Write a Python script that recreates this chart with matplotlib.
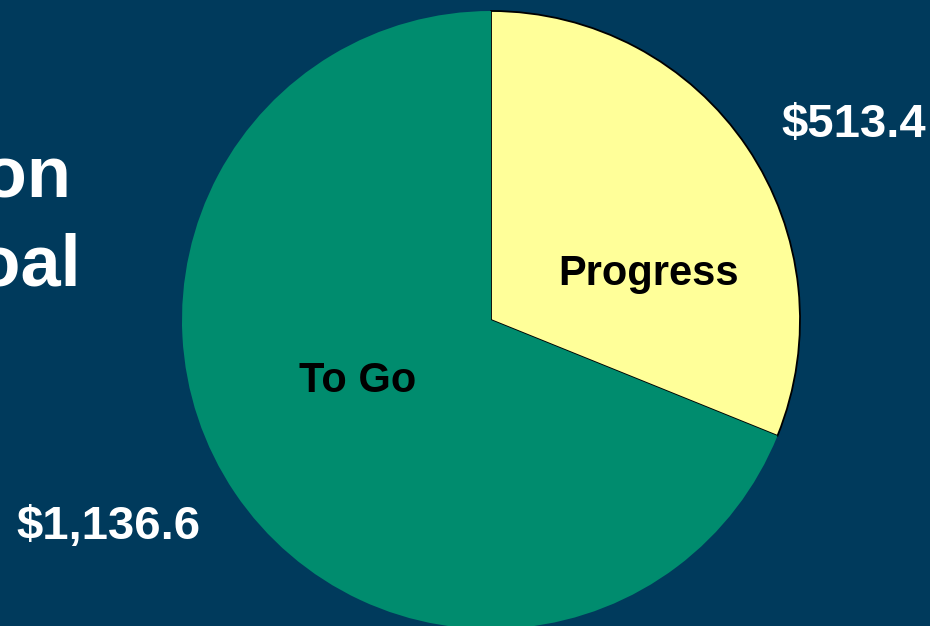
import matplotlib
matplotlib.use("Agg")
import matplotlib.pyplot as plt

categories = ["Progress", "To Go"]
values = [513.4, 1136.6]
colors = ["#FFFF99", "#008C6E"]
title_lines = ["Progress on", "Goal"]

BG = "#003A5C"
W, H = 930, 626
fig = plt.figure(figsize=(W / 100, H / 100), dpi=100, facecolor=BG)
ax = fig.add_axes([0, 0, 1, 1])
ax.set_facecolor(BG)

cx, cy, r = 491, H - 320, 309
wedges, _ = ax.pie(values, colors=colors, startangle=90, counterclock=False,
                   center=(cx, cy), radius=r, frame=True)
wedges[0].set_edgecolor("black")
wedges[0].set_linewidth(1.3)
wedges[1].set_edgecolor("none")
wedges[1].set_linewidth(0)

ax.set_xlim(0, W)
ax.set_ylim(0, H)
ax.set_aspect("equal")
ax.axis("off")

font = "Liberation Sans"

# category labels inside slices
ax.text(cx + 158, H - 285, categories[0], ha="center", va="baseline",
        fontsize=30, fontweight="bold", family=font, color="black")
ax.text(cx - 133, H - 392, categories[1], ha="center", va="baseline",
        fontsize=30, fontweight="bold", family=font, color="black")

# value labels
ax.text(926, H - 137, f"${values[0]:,.1f}", ha="right", va="baseline",
        fontsize=34, fontweight="bold", family=font, color="white")
ax.text(16, H - 539, f"${values[1]:,.1f}", ha="left", va="baseline",
        fontsize=34, fontweight="bold", family=font, color="white")

# clipped title on the left
ax.text(71, H - 197, title_lines[0], ha="right", va="baseline",
        fontsize=52, fontweight="bold", family=font, color="white")
ax.text(81, H - 286, title_lines[1], ha="right", va="baseline",
        fontsize=52, fontweight="bold", family=font, color="white")

fig.savefig("out.png", dpi=100, facecolor=BG)
